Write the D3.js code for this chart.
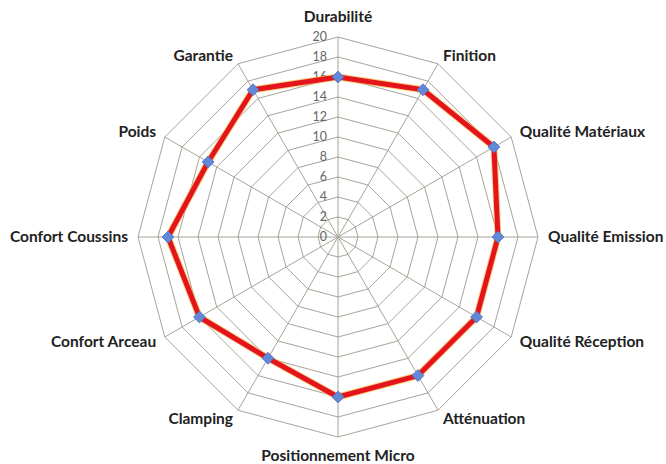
<!DOCTYPE html>
<html>
<head>
<meta charset="utf-8">
<script src="https://cdn.jsdelivr.net/npm/d3@7"></script>
<style>
  body { margin: 0; background: #fff; }
  svg { display: block; }
  .lbl { font-family: Lato, "Open Sans", sans-serif; font-weight: bold; font-size: 15.5px; fill: #222; }
  .tick { font-family: Lato, "Open Sans", sans-serif; font-size: 12.5px; fill: #666; }
</style>
</head>
<body>
<div id="chart"></div>
<script>
// data
let criteria = ["Durabilité", "Finition", "Qualité Matériaux", "Qualité Emission",
  "Qualité Réception", "Atténuation", "Positionnement Micro", "Clamping",
  "Confort Arceau", "Confort Coussins", "Poids", "Garantie"];
let scores = [16, 17, 18, 16, 16, 16, 16, 14, 16, 17, 15, 17];
let tickValues = [0, 2, 4, 6, 8, 10, 12, 14, 16, 18, 20];

let width = 666, height = 464;
let cx = 338, cy = 237, radius = 200;

let svg = d3.select("#chart").append("svg")
  .attr("width", width)
  .attr("height", height);

let g = svg.append("g").attr("transform", "translate(" + cx + "," + cy + ")");

let r = d3.scaleLinear().domain([0, 20]).range([0, radius]);
let angle = d3.scaleLinear().domain([0, criteria.length]).range([0, 2 * Math.PI]);

function px(i, v) { return r(v) * Math.sin(angle(i)); }
function py(i, v) { return -r(v) * Math.cos(angle(i)); }

// grid rings
let ring = d3.lineRadial()
  .angle(function(d, i) { return angle(i); })
  .radius(function(d) { return r(d); })
  .curve(d3.curveLinearClosed);

g.append("g").selectAll("path")
  .data(tickValues.filter(function(t) { return t > 0; }))
  .enter().append("path")
  .attr("d", function(t) { return ring(criteria.map(function() { return t; })); })
  .attr("fill", "none")
  .attr("stroke", "#a8a49a")
  .attr("stroke-width", 1);

// spokes
g.append("g").selectAll("line")
  .data(criteria)
  .enter().append("line")
  .attr("x1", 0).attr("y1", 0)
  .attr("x2", function(d, i) { return px(i, 20); })
  .attr("y2", function(d, i) { return py(i, 20); })
  .attr("stroke", "#a8a49a")
  .attr("stroke-width", 1);

// tick labels along top axis
g.append("g").selectAll("text")
  .data(tickValues)
  .enter().append("text")
  .attr("class", "tick")
  .attr("x", -11)
  .attr("y", function(t) { return -r(t); })
  .attr("dy", "0.35em")
  .attr("text-anchor", "end")
  .text(function(t) { return t; });

// series line
let line = d3.lineRadial()
  .angle(function(d, i) { return angle(i); })
  .radius(function(d) { return r(d); })
  .curve(d3.curveLinearClosed);

g.append("path")
  .attr("d", line(scores))
  .attr("fill", "none")
  .attr("stroke", "#f5b030")
  .attr("stroke-width", 7)
  .attr("stroke-linejoin", "round")
  .attr("opacity", 0.6);

g.append("path")
  .attr("d", line(scores))
  .attr("fill", "none")
  .attr("stroke", "#e3141c")
  .attr("stroke-width", 5)
  .attr("stroke-linejoin", "round");

// markers
let diamond = d3.symbol().type(d3.symbolDiamond2).size(90);
g.append("g").selectAll("path")
  .data(scores)
  .enter().append("path")
  .attr("d", diamond)
  .attr("transform", function(d, i) { return "translate(" + px(i, d) + "," + py(i, d) + ")"; })
  .attr("fill", "#6288d8")
  .attr("stroke", "#4a6fc0")
  .attr("stroke-width", 0.8);

// category labels
let labelR = 210;
g.append("g").selectAll("text")
  .data(criteria)
  .enter().append("text")
  .attr("class", "lbl")
  .attr("x", function(d, i) { return labelR * Math.sin(angle(i)); })
  .attr("y", function(d, i) {
    let y = -labelR * Math.cos(angle(i));
    if (i == 0) y -= 10;
    if (i == 6) y += 9;
    return y;
  })
  .attr("dy", "0.35em")
  .attr("text-anchor", function(d, i) {
    let s = Math.sin(angle(i));
    if (Math.abs(s) < 0.01) return "middle";
    return s > 0 ? "start" : "end";
  })
  .text(function(d) { return d; });
</script>
</body>
</html>
